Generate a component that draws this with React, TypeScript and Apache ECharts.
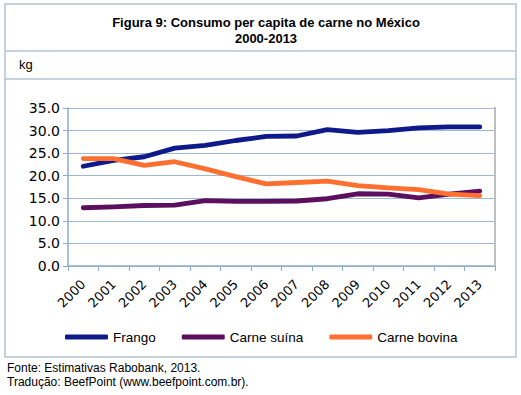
import React, { useEffect, useRef } from "react";
import * as echarts from "echarts";

const years = ["2000","2001","2002","2003","2004","2005","2006","2007","2008","2009","2010","2011","2012","2013"];
const frango = [22.1, 23.4, 24.2, 26.1, 26.7, 27.8, 28.7, 28.8, 30.2, 29.6, 30.0, 30.6, 30.8, 30.8];
const carneSuina = [12.9, 13.1, 13.4, 13.5, 14.5, 14.3, 14.3, 14.4, 14.9, 16.0, 15.9, 15.1, 15.9, 16.6];
const carneBovina = [23.8, 23.8, 22.3, 23.1, 21.5, 19.8, 18.2, 18.5, 18.8, 17.8, 17.3, 16.9, 15.9, 15.6];
const yTicks = [0, 5, 10, 15, 20, 25, 30, 35];

const seriesNames = ["Frango", "Carne suína", "Carne bovina"];
const seriesColors = ["#0F1A8A", "#5C0F5E", "#FF6F30"];

export default function App() {
  const ref = useRef<HTMLDivElement>(null);
  useEffect(() => {
    if (!ref.current) return;
    const chart = echarts.init(ref.current, null, { renderer: "svg" });
    const data = [frango, carneSuina, carneBovina];
    const border = "#B3C4D4";
    chart.setOption({
      animation: false,
      backgroundColor: "#ffffff",
      title: {
        text: "Figura 9: Consumo per capita de carne no México\n2000-2013",
        left: 261,
        top: 9,
        textAlign: "center",
        textStyle: {
          fontFamily: "Liberation Sans",
          fontWeight: "bold",
          fontSize: 13,
          lineHeight: 16,
          color: "#000",
        },
      },
      legend: {
        data: seriesNames,
        left: 60,
        top: 325,
        icon: "roundRect",
        itemWidth: 43,
        itemHeight: 5,
        itemGap: 26,
        textStyle: { fontFamily: "Liberation Sans", fontSize: 13.5, color: "#000" },
      },
      grid: { left: 68, right: 26, top: 108, bottom: 129, containLabel: false },
      xAxis: {
        type: "category",
        data: years,
        boundaryGap: true,
        axisLine: { lineStyle: { color: "#8EAACC", width: 1.5 } },
        axisTick: { show: true, length: 5, lineStyle: { color: "#8EAACC" } },
        axisLabel: {
          rotate: 45,
          margin: 16,
          interval: 0,
          fontFamily: "DejaVu Sans",
          fontSize: 13,
          color: "#000",
        },
      },
      yAxis: {
        type: "value",
        min: yTicks[0],
        max: yTicks[yTicks.length - 1],
        interval: 5,
        axisLine: { show: true, lineStyle: { color: "#8EAACC", width: 1.5 } },
        axisTick: { show: true, length: 5, lineStyle: { color: "#8EAACC" } },
        axisLabel: {
          formatter: (v: number) => v.toFixed(1),
          margin: 8,
          fontFamily: "DejaVu Sans",
          fontSize: 14,
          color: "#000",
        },
        splitLine: { show: true, lineStyle: { color: "#9DB9D3", width: 1.2 } },
      },
      series: seriesNames.map((name, i) => ({
        name,
        type: "line",
        data: data[i],
        symbol: "none",
        lineStyle: { width: 4.8, color: seriesColors[i], cap: "round", join: "round" },
        itemStyle: { color: seriesColors[i] },
        z: 3 + i,
      })),
      graphic: [
        { type: "rect", shape: { x: 5, y: 4, width: 511, height: 353 }, style: { fill: "none", stroke: border, lineWidth: 1.5 }, silent: true },
        { type: "line", shape: { x1: 5, y1: 51, x2: 516, y2: 51 }, style: { stroke: border, lineWidth: 1.5 }, silent: true },
        { type: "line", shape: { x1: 5, y1: 79, x2: 516, y2: 79 }, style: { stroke: border, lineWidth: 1.5 }, silent: true },
        { type: "line", shape: { x1: 495, y1: 107, x2: 495, y2: 266 }, style: { stroke: "#BFBFBF", lineWidth: 2 }, silent: true, z: 1 },
        { type: "text", x: 19, y: 58, style: { text: "kg", fontFamily: "Liberation Sans", fontSize: 13, fill: "#000" } },
        { type: "text", x: 7, y: 362, style: { text: "Fonte: Estimativas Rabobank, 2013.", fontFamily: "Liberation Sans", fontSize: 12, fill: "#000" } },
        { type: "text", x: 7, y: 376, style: { text: "Tradução: BeefPoint (www.beefpoint.com.br).", fontFamily: "Liberation Sans", fontSize: 12, fill: "#000" } },
      ],
    });
    return () => chart.dispose();
  }, []);
  return <div ref={ref} style={{ position: "fixed", left: 0, top: 0, width: 521, height: 395 }} />;
}
